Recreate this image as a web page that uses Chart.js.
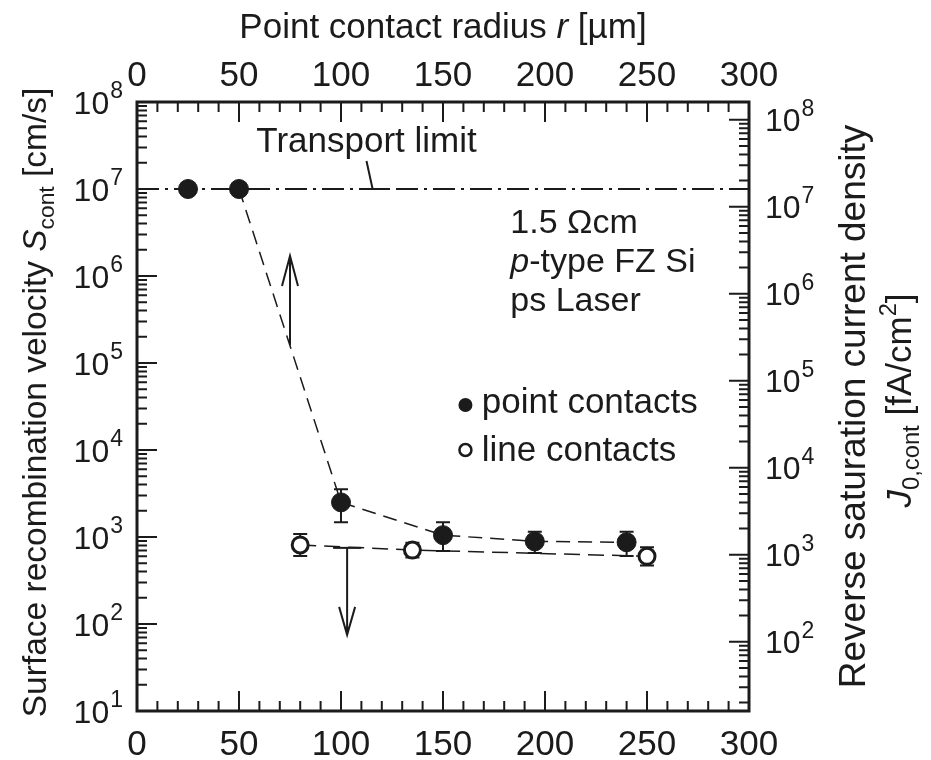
<!DOCTYPE html>
<html>
<head>
<meta charset="utf-8">
<title>Contact recombination vs. contact radius</title>
<script src="https://cdn.jsdelivr.net/npm/chart.js@4.4.0/dist/chart.umd.min.js"></script>
<style>
  html, body { margin: 0; padding: 0; background: #fff; }
  #wrap { width: 931px; height: 760px; }
</style>
</head>
<body>
<div id="wrap"><canvas id="chart" width="931" height="760"></canvas></div>
<script>
// point contacts: radius r [um] vs. S_cont [cm/s], with error bar ends
const pointRadius = [25, 50, 100, 150, 195, 240];
const pointS      = [1e7, 1e7, 2500, 1050, 890, 870];
const pointSLow   = [null, null, 1480, 690, 655, 605];
const pointSHigh  = [null, null, 3550, 1480, 1150, 1150];

// line contacts
const lineRadius = [80, 135, 250];
const lineS      = [810, 708, 600];
const lineSLow   = [605, 580, 470];
const lineSHigh  = [1080, 860, 760];

const transportLimit = 1e7;

// tick labels
const xTicks = [0, 50, 100, 150, 200, 250, 300];
const leftDecades = [1, 2, 3, 4, 5, 6, 7, 8];
const rightDecades = [2, 3, 4, 5, 6, 7, 8];

// J0 = q*ni^2/NA * S, about 1.6 fA/cm^2 per cm/s for 1.5 Ohm cm p-Si
const j0PerS = 1.6;

const family = '"Liberation Sans", Arial, Helvetica, sans-serif';
const ink = '#1b1b1b';

function drawRuns(ctx, runs, x, y, size, align) {
    const parts = runs.map(r => {
        const s = (r.sub || r.sup) ? size * 0.68 : size;
        const font = (r.it ? 'italic ' : '') + s + 'px ' + family;
        ctx.font = font;
        return {
            t: r.t, font: font,
            w: ctx.measureText(r.t).width,
            dy: r.sub ? size * 0.24 : (r.sup ? -size * 0.42 : 0)
        };
    });
    const total = parts.reduce((a, p) => a + p.w, 0);
    let cx = align === 'center' ? x - total / 2 : (align === 'right' ? x - total : x);
    ctx.textAlign = 'left';
    ctx.textBaseline = 'alphabetic';
    parts.forEach(p => {
        ctx.font = p.font;
        ctx.fillText(p.t, cx, y + p.dy);
        cx += p.w;
    });
}

function drawPower(ctx, exp, x, y, align) {
    // "10" with a raised exponent, centred vertically on y
    ctx.font = '32px ' + family;
    const wBase = ctx.measureText('10').width;
    ctx.font = '23px ' + family;
    const wExp = ctx.measureText(String(exp)).width;
    const left = align === 'right' ? x - wBase - wExp : x;
    ctx.textAlign = 'left';
    ctx.textBaseline = 'alphabetic';
    ctx.font = '32px ' + family;
    ctx.fillText('10', left, y + 11.5);
    ctx.font = '23px ' + family;
    ctx.fillText(String(exp), left + wBase + 1, y - 4);
}

function logTicks(scale) {
    const out = [];
    for (let d = 0; d <= 9; d++) {
        for (let k = 1; k <= 9; k++) {
            const v = k * Math.pow(10, d);
            if (v >= scale.min * 0.999 && v <= scale.max * 1.001) {
                out.push({ v: v, major: k === 1 });
            }
        }
    }
    return out;
}

function arrow(ctx, x, y0, y1, head) {
    const dir = y1 < y0 ? 1 : -1;
    ctx.beginPath();
    ctx.moveTo(x, y0);
    ctx.lineTo(x, y1);
    ctx.moveTo(x - 8, y1 + dir * head);
    ctx.lineTo(x, y1);
    ctx.lineTo(x + 8, y1 + dir * head);
    ctx.stroke();
}

const errorBars = {
    id: 'errorBars',
    beforeDatasetsDraw(chart) {
        const ctx = chart.ctx;
        const x = chart.scales.x, y = chart.scales.y;
        ctx.save();
        ctx.strokeStyle = ink;
        ctx.lineWidth = 2;
        const bars = (rs, lo, hi) => rs.forEach((r, i) => {
            if (lo[i] == null) return;
            const px = x.getPixelForValue(r);
            const yl = y.getPixelForValue(lo[i]);
            const yh = y.getPixelForValue(hi[i]);
            ctx.beginPath();
            ctx.moveTo(px, yl); ctx.lineTo(px, yh);
            ctx.moveTo(px - 7, yl); ctx.lineTo(px + 7, yl);
            ctx.moveTo(px - 7, yh); ctx.lineTo(px + 7, yh);
            ctx.stroke();
        });
        bars(pointRadius, pointSLow, pointSHigh);
        bars(lineRadius, lineSLow, lineSHigh);
        ctx.restore();
    }
};

const frameAndText = {
    id: 'frameAndText',
    afterDatasetsDraw(chart) {
        const ctx = chart.ctx;
        const a = chart.chartArea;
        const x = chart.scales.x, y = chart.scales.y, y2 = chart.scales.y2;
        ctx.save();
        ctx.strokeStyle = ink;
        ctx.fillStyle = ink;

        // inward ticks on all four sides
        ctx.lineWidth = 2;
        ctx.beginPath();
        for (let v = 0; v <= 300; v += 10) {
            const px = x.getPixelForValue(v);
            const len = v % 50 === 0 ? 20 : 10;
            ctx.moveTo(px, a.bottom); ctx.lineTo(px, a.bottom - len);
            ctx.moveTo(px, a.top); ctx.lineTo(px, a.top + len);
        }
        logTicks(y).forEach(t => {
            const py = y.getPixelForValue(t.v);
            ctx.moveTo(a.left, py); ctx.lineTo(a.left + (t.major ? 20 : 10), py);
        });
        logTicks(y2).forEach(t => {
            const py = y2.getPixelForValue(t.v);
            ctx.moveTo(a.right, py); ctx.lineTo(a.right - (t.major ? 20 : 10), py);
        });
        ctx.stroke();

        // frame
        ctx.lineWidth = 3;
        ctx.strokeRect(a.left, a.top, a.right - a.left, a.bottom - a.top);

        // tick labels
        ctx.font = '35px ' + family;
        ctx.textAlign = 'center';
        ctx.textBaseline = 'alphabetic';
        xTicks.forEach(v => {
            const px = x.getPixelForValue(v);
            ctx.fillText(String(v), px, a.bottom + 44);
            ctx.fillText(String(v), px, a.top - 16);
        });
        leftDecades.forEach(d => drawPower(ctx, d, a.left - 15, y.getPixelForValue(Math.pow(10, d)), 'right'));
        rightDecades.forEach(d => drawPower(ctx, d, a.right + 16, y2.getPixelForValue(Math.pow(10, d)), 'left'));

        // axis titles
        drawRuns(ctx, [{ t: 'Point contact radius ' }, { t: 'r', it: true }, { t: ' [\u00b5m]' }],
            (a.left + a.right) / 2, 38, 35, 'center');

        ctx.save();
        ctx.translate(46, (a.top + a.bottom) / 2 - 4);
        ctx.rotate(-Math.PI / 2);
        drawRuns(ctx, [{ t: 'Surface recombination velocity ' }, { t: 'S', it: true },
            { t: 'cont', sub: true }, { t: ' [cm/s]' }], 0, 0, 33.5, 'center');
        ctx.restore();

        ctx.save();
        ctx.translate(865, (a.top + a.bottom) / 2);
        ctx.rotate(-Math.PI / 2);
        drawRuns(ctx, [{ t: 'Reverse saturation current density' }], 0, 0, 37, 'center');
        ctx.restore();

        ctx.save();
        ctx.translate(911, (a.top + a.bottom) / 2 - 6);
        ctx.rotate(-Math.PI / 2);
        drawRuns(ctx, [{ t: 'J', it: true }, { t: '0,cont', sub: true }, { t: ' [fA/cm' },
            { t: '2', sup: true }, { t: ']' }], 0, 0, 35, 'center');
        ctx.restore();

        // transport limit label with leader
        ctx.font = '35px ' + family;
        ctx.textAlign = 'left';
        ctx.fillText('Transport limit', x.getPixelForValue(58.5), y.getPixelForValue(2.66e7));
        ctx.lineWidth = 2;
        ctx.beginPath();
        ctx.moveTo(x.getPixelForValue(112.5), y.getPixelForValue(2.1e7));
        ctx.lineTo(x.getPixelForValue(115.5), y.getPixelForValue(transportLimit));
        ctx.lineTo(x.getPixelForValue(123), y.getPixelForValue(transportLimit));
        ctx.stroke();

        // sample description
        const tx = x.getPixelForValue(183);
        drawRuns(ctx, [{ t: '1.5 \u03a9cm' }], tx, y.getPixelForValue(3.12e6), 34, 'left');
        drawRuns(ctx, [{ t: 'p', it: true }, { t: '-type FZ Si' }], tx, y.getPixelForValue(1.11e6), 34, 'left');
        drawRuns(ctx, [{ t: 'ps Laser' }], tx, y.getPixelForValue(3.96e5), 34, 'left');

        // arrows pointing to the relevant axis
        ctx.lineWidth = 2;
        arrow(ctx, x.getPixelForValue(75), y.getPixelForValue(1.6e5), y.getPixelForValue(1.7e6), 30);
        const dx = x.getPixelForValue(103);
        const dTop = y.getPixelForValue(750);
        arrow(ctx, dx, dTop, y.getPixelForValue(75), 28);
        ctx.beginPath();
        ctx.moveTo(dx - 14, dTop); ctx.lineTo(dx + 14, dTop);
        ctx.stroke();

        // legend
        const lx = x.getPixelForValue(161);
        ctx.beginPath();
        ctx.arc(lx, y.getPixelForValue(3.29e4), 7, 0, Math.PI * 2);
        ctx.fill();
        ctx.beginPath();
        ctx.arc(lx, y.getPixelForValue(1.0e4), 6, 0, Math.PI * 2);
        ctx.fillStyle = '#fff';
        ctx.fill();
        ctx.lineWidth = 2.5;
        ctx.stroke();
        ctx.fillStyle = ink;
        drawRuns(ctx, [{ t: 'point contacts' }], x.getPixelForValue(169), y.getPixelForValue(2.66e4), 35, 'left');
        drawRuns(ctx, [{ t: 'line contacts' }], x.getPixelForValue(169), y.getPixelForValue(7.48e3), 35, 'left');

        ctx.restore();
    }
};

const ctx = document.getElementById('chart').getContext('2d');
const chart = new Chart(ctx, {
    type: 'scatter',
    data: {
        datasets: [{
            label: 'Transport limit',
            data: [{ x: 0, y: transportLimit }, { x: 300, y: transportLimit }],
            showLine: true,
            borderColor: ink,
            borderWidth: 2,
            borderDash: [22, 6, 3, 6],
            pointRadius: 0
        }, {
            label: 'point contacts',
            data: pointRadius.map((r, i) => ({ x: r, y: pointS[i] })),
            showLine: true,
            borderColor: ink,
            borderWidth: 1.5,
            borderDash: [14, 8],
            segment: {
                // first pair sits on the transport limit line
                borderColor: c => c.p0DataIndex === 0 ? 'rgba(0,0,0,0)' : ink
            },
            pointRadius: 9.5,
            pointBackgroundColor: ink,
            pointBorderColor: ink,
            pointBorderWidth: 1
        }, {
            label: 'line contacts',
            data: lineRadius.map((r, i) => ({ x: r, y: lineS[i] })),
            showLine: true,
            borderColor: ink,
            borderWidth: 1.5,
            borderDash: [16, 8],
            pointRadius: 8,
            pointBackgroundColor: '#fff',
            pointBorderColor: ink,
            pointBorderWidth: 3
        }]
    },
    options: {
        responsive: false,
        animation: false,
        events: [],
        layout: { padding: { left: 137, right: 182, top: 102, bottom: 49 } },
        scales: {
            x: { type: 'linear', position: 'bottom', min: 0, max: 300, display: false },
            x2: { type: 'linear', position: 'top', min: 0, max: 300, display: false },
            y: { type: 'logarithmic', position: 'left', min: 10, max: 1e8, display: false },
            y2: { type: 'logarithmic', position: 'right', min: 10 * j0PerS, max: 1e8 * j0PerS, display: false }
        },
        plugins: {
            legend: { display: false },
            tooltip: { enabled: false }
        }
    },
    plugins: [errorBars, frameAndText]
});
</script>
</body>
</html>
